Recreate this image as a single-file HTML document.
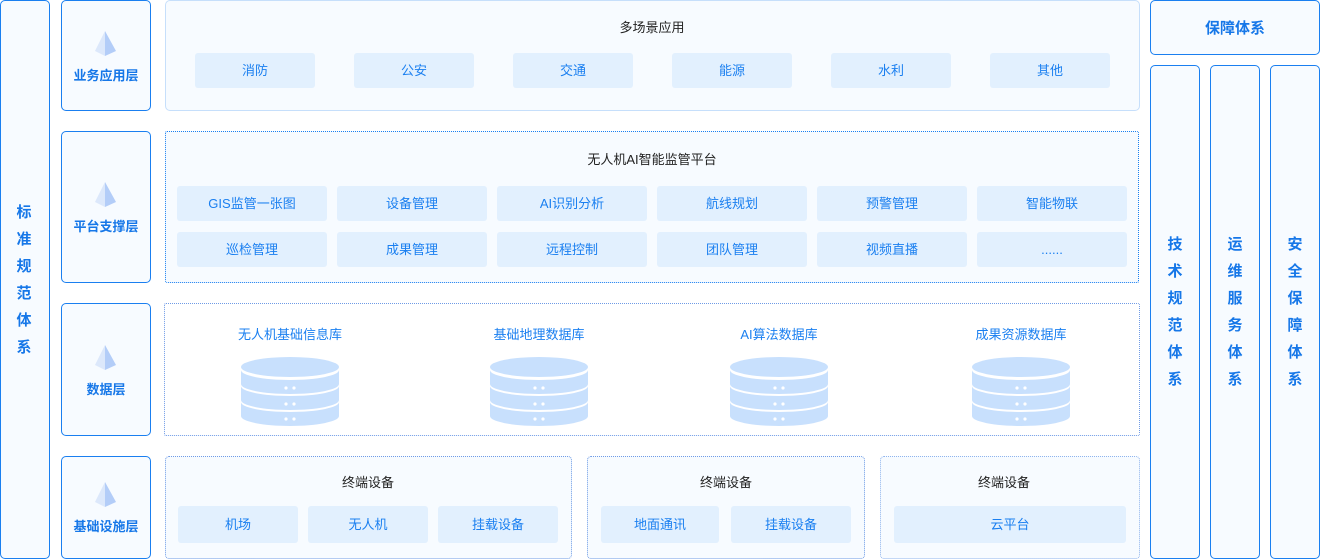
<!DOCTYPE html>
<html><head><meta charset="utf-8"><style>
*{margin:0;padding:0;box-sizing:border-box}
body{width:1320px;height:559px;background:#fff;position:relative;overflow:hidden;font-family:"Liberation Sans","Noto Sans CJK SC",sans-serif}
.a{position:absolute}
.solid{border:1.5px solid #1a7ff0;background:#f7fbff;border-radius:5px}
.lay{color:#1677e8;font-weight:bold;font-size:13px;text-align:center;width:100%;position:absolute;left:0}
.pill{position:absolute;background:#e2f0fe;border-radius:3px;color:#1a7ff0;font-size:13px;text-align:center;height:35px;line-height:35px}
.t{position:absolute;font-size:13px;color:#222;text-align:center}
.vt{position:absolute;color:#1677e8;font-weight:bold;font-size:15px;width:20px;text-align:center;line-height:27px}
.dbt{position:absolute;color:#1a7ff0;font-size:13px;text-align:center;width:200px}
</style></head><body>

<div class="a solid" style="left:0;top:0;width:50px;height:559px"></div>
<div class="vt" style="left:14px;top:199px">标<br>准<br>规<br>范<br>体<br>系</div>

<div class="a solid" style="left:61px;top:0;width:90px;height:111px"><svg class="a" style="left:32px;top:29px" width="24" height="28"><polygon points="11,1 1,21 11,26" fill="#dce8fb"/><polygon points="11,1 22,21 11,26" fill="#b3cdf8"/></svg><div class="lay" style="top:64px">业务应用层</div></div>
<div class="a solid" style="left:61px;top:131px;width:90px;height:152px"><svg class="a" style="left:32px;top:49px" width="24" height="28"><polygon points="11,1 1,21 11,26" fill="#dce8fb"/><polygon points="11,1 22,21 11,26" fill="#b3cdf8"/></svg><div class="lay" style="top:84px">平台支撑层</div></div>
<div class="a solid" style="left:61px;top:303px;width:90px;height:133px"><svg class="a" style="left:32px;top:40px" width="24" height="28"><polygon points="11,1 1,21 11,26" fill="#dce8fb"/><polygon points="11,1 22,21 11,26" fill="#b3cdf8"/></svg><div class="lay" style="top:75px">数据层</div></div>
<div class="a solid" style="left:61px;top:456px;width:90px;height:103px"><svg class="a" style="left:32px;top:24px" width="24" height="28"><polygon points="11,1 1,21 11,26" fill="#dce8fb"/><polygon points="11,1 22,21 11,26" fill="#b3cdf8"/></svg><div class="lay" style="top:59px">基础设施层</div></div>

<div class="a" style="left:165px;top:0;width:975px;height:111px;border:1px solid #c6dffb;border-radius:5px;background:#f7fbff"></div>
<div class="t" style="left:552px;top:17px;width:200px">多场景应用</div>
<div class="pill" style="left:195px;top:53px;width:120px">消防</div>
<div class="pill" style="left:354px;top:53px;width:120px">公安</div>
<div class="pill" style="left:513px;top:53px;width:120px">交通</div>
<div class="pill" style="left:672px;top:53px;width:120px">能源</div>
<div class="pill" style="left:831px;top:53px;width:120px">水利</div>
<div class="pill" style="left:990px;top:53px;width:120px">其他</div>

<div class="a" style="left:165px;top:131px;width:974px;height:152px;border:1px dotted #1a7ff0;border-radius:2px;background:#f7fbff"></div>
<div class="t" style="left:552px;top:149px;width:200px">无人机AI智能监管平台</div>
<div class="pill" style="left:177px;top:186px;width:150px">GIS监管一张图</div>
<div class="pill" style="left:337px;top:186px;width:150px">设备管理</div>
<div class="pill" style="left:497px;top:186px;width:150px">AI识别分析</div>
<div class="pill" style="left:657px;top:186px;width:150px">航线规划</div>
<div class="pill" style="left:817px;top:186px;width:150px">预警管理</div>
<div class="pill" style="left:977px;top:186px;width:150px">智能物联</div>
<div class="pill" style="left:177px;top:232px;width:150px">巡检管理</div>
<div class="pill" style="left:337px;top:232px;width:150px">成果管理</div>
<div class="pill" style="left:497px;top:232px;width:150px">远程控制</div>
<div class="pill" style="left:657px;top:232px;width:150px">团队管理</div>
<div class="pill" style="left:817px;top:232px;width:150px">视频直播</div>
<div class="pill" style="left:977px;top:232px;width:150px">......</div>

<div class="a" style="left:164px;top:303px;width:976px;height:133px;border:1px dotted #6f9be6;border-radius:2px;background:#fff"></div>
<div class="dbt" style="left:190px;top:324px">无人机基础信息库</div>
<div class="dbt" style="left:439px;top:324px">基础地理数据库</div>
<div class="dbt" style="left:679px;top:324px">AI算法数据库</div>
<div class="dbt" style="left:921px;top:324px">成果资源数据库</div>
<svg class="a" style="left:0;top:0" width="1320" height="559">
<defs><g id="db" fill="#c8e0fd">
<ellipse cx="49" cy="11" rx="49" ry="10"/>
<path d="M0,14 A49,10 0 0 0 98,14 L98,28 A49,10 0 0 1 0,28 Z"/>
<path d="M0,30 A49,10 0 0 0 98,30 L98,44 A49,10 0 0 1 0,44 Z"/>
<path d="M0,46 A49,10 0 0 0 98,46 L98,60 A49,10 0 0 1 0,60 Z"/>
<g fill="#fff"><circle cx="45" cy="32" r="1.6"/><circle cx="53" cy="32" r="1.6"/><circle cx="45" cy="48" r="1.6"/><circle cx="53" cy="48" r="1.6"/><circle cx="45" cy="63" r="1.6"/><circle cx="53" cy="63" r="1.6"/></g>
</g></defs>
<use href="#db" x="241" y="356"/>
<use href="#db" x="490" y="356"/>
<use href="#db" x="730" y="356"/>
<use href="#db" x="972" y="356"/>
</svg>

<div class="a" style="left:165px;top:456px;width:407px;height:103px;border:1px dotted #6f9be6;border-radius:4px;background:#f7fbff"></div>
<div class="a" style="left:587px;top:456px;width:278px;height:103px;border:1px dotted #6f9be6;border-radius:4px;background:#f7fbff"></div>
<div class="a" style="left:880px;top:456px;width:260px;height:103px;border:1px dotted #8fb4ee;border-radius:4px;background:#f7fbff"></div>
<div class="t" style="left:268px;top:472px;width:200px">终端设备</div>
<div class="t" style="left:626px;top:472px;width:200px">终端设备</div>
<div class="t" style="left:904px;top:472px;width:200px">终端设备</div>
<div class="pill" style="left:178px;top:506px;width:120px;height:37px;line-height:37px">机场</div>
<div class="pill" style="left:308px;top:506px;width:120px;height:37px;line-height:37px">无人机</div>
<div class="pill" style="left:438px;top:506px;width:120px;height:37px;line-height:37px">挂载设备</div>
<div class="pill" style="left:601px;top:506px;width:118px;height:37px;line-height:37px">地面通讯</div>
<div class="pill" style="left:731px;top:506px;width:120px;height:37px;line-height:37px">挂载设备</div>
<div class="pill" style="left:894px;top:506px;width:232px;height:37px;line-height:37px">云平台</div>

<div class="a solid" style="left:1150px;top:0;width:170px;height:55px"></div>
<div class="a" style="left:1150px;top:17px;width:170px;text-align:center;color:#1677e8;font-weight:bold;font-size:15px">保障体系</div>
<div class="a solid" style="left:1150px;top:65px;width:50px;height:494px"></div>
<div class="a solid" style="left:1210px;top:65px;width:50px;height:494px"></div>
<div class="a solid" style="left:1270px;top:65px;width:50px;height:494px"></div>
<div class="vt" style="left:1165px;top:231px">技<br>术<br>规<br>范<br>体<br>系</div>
<div class="vt" style="left:1225px;top:231px">运<br>维<br>服<br>务<br>体<br>系</div>
<div class="vt" style="left:1285px;top:231px">安<br>全<br>保<br>障<br>体<br>系</div>
</body></html>
